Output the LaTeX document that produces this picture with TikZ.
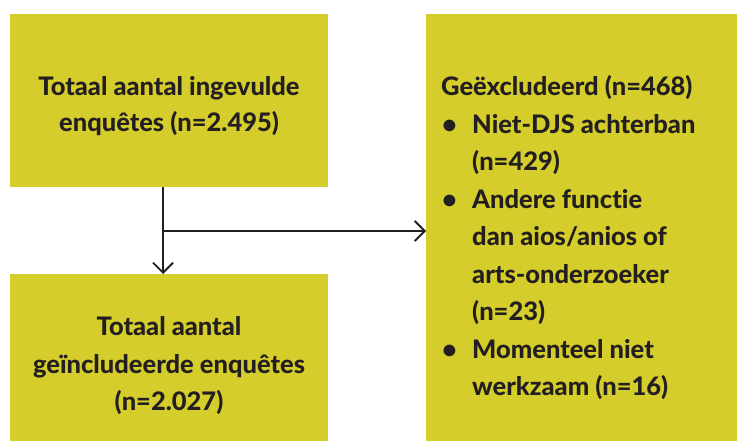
\documentclass[tikz,border=0pt]{standalone}
\usepackage{fontspec}
\setmainfont{Lato}[UprightFont=* Heavy,Ligatures={NoCommon,NoDiscretionary}]
\usetikzlibrary{arrows.meta}
\definecolor{boxfill}{RGB}{213,205,43}
\definecolor{ink}{RGB}{35,31,32}
\begin{document}
\begin{tikzpicture}[x=1pt,y=-1pt,
  box/.style={fill=boxfill,draw=none,inner sep=0pt,anchor=north west},
  txt/.style={text=ink,font=\fontsize{25.5}{36}\selectfont,inner sep=0pt},
  conn/.style={draw=ink,line width=1.8pt,-{Straight Barb[length=10pt,width=20pt,line width=1.8pt]}}]
\useasboundingbox (0,0) rectangle (737,441);
\node[box,minimum width=318pt,minimum height=173pt] (b1) at (10,14) {};
\node[box,minimum width=318pt,minimum height=167pt] (b2) at (10,274) {};
\node[box,minimum width=311pt,minimum height=427pt] (b3) at (426,14) {};
\node[txt,align=center] (t1) at (169,106) {Totaal aantal ingevulde\\enquêtes (n=2.495)};
\node[txt,align=center,font=\fontsize{25.5}{37.5}\selectfont] (t2) at (169,366) {Totaal aantal\\geïncludeerde enquêtes\\(n=2.027)};
\node[txt,align=left,anchor=north west,font=\fontsize{25.5}{37.5}\selectfont] (t3) at (441,75.5)
 {Geëxcludeerd (n=468)\\
  \makebox[31pt][l]{\hspace{1pt}•}Niet-DJS achterban\\
  \hspace*{31pt}(n=429)\\
  \makebox[31pt][l]{\hspace{1pt}•}Andere funct\kern0pt ie\\
  \hspace*{31pt}dan aios/anios of\\
  \hspace*{31pt}arts-onderzoeker\\
  \hspace*{31pt}(n=23)\\
  \makebox[31pt][l]{\hspace{1pt}•}Momenteel niet\\
  \hspace*{31pt}werkzaam (n=16)};
\coordinate (j) at (163,231);
\draw[conn] (b1.south -| j) -- (b2.north -| j);
\draw[conn] (j) -- (b3.west |- j);
\end{tikzpicture}
\end{document}
